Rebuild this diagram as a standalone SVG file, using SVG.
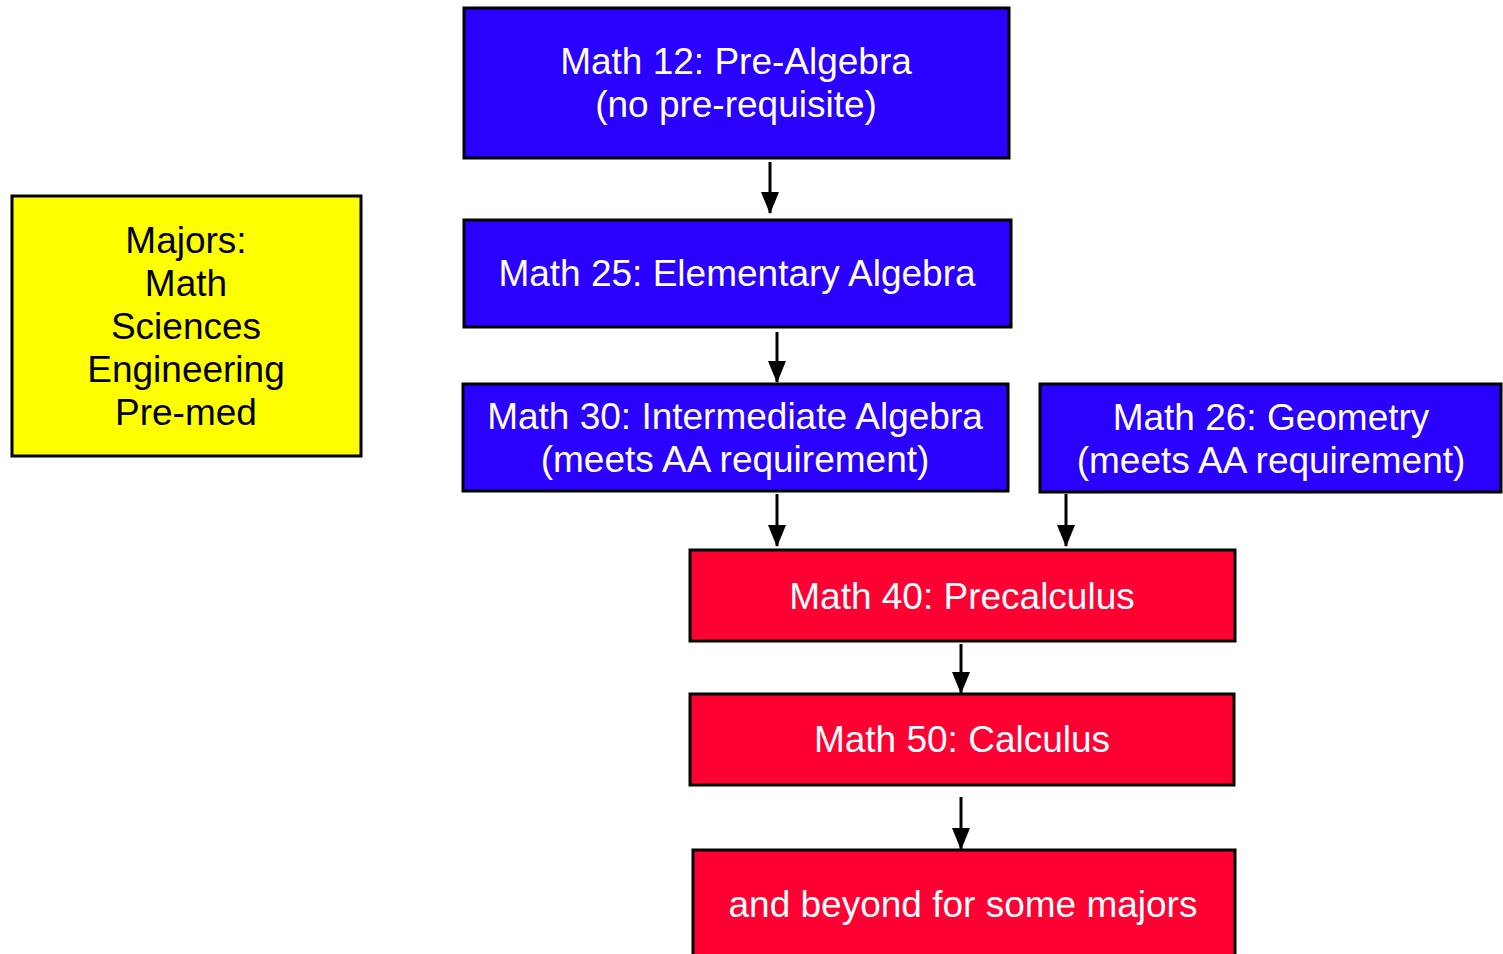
<svg xmlns="http://www.w3.org/2000/svg" width="1503" height="954" viewBox="0 0 1503 954">
<defs>
<style>
.box{stroke:#000;stroke-width:3}
.blue{fill:#2a00ff}
.red{fill:#ff0033}
.yellow{fill:#ffff00}
.t{font-family:"Liberation Sans",Arial,sans-serif;font-size:37px;text-anchor:middle}
.w{fill:#fff}
.k{fill:#000}
.conn{stroke:#000;stroke-width:3;fill:none;marker-end:url(#ah)}
</style>
<marker id="ah" viewBox="0 0 22 18" refX="21" refY="9" markerWidth="22" markerHeight="18" markerUnits="userSpaceOnUse" orient="auto">
<path d="M0,0 L22,9 L0,18 Z" fill="#000"/>
</marker>
</defs>
<rect width="1503" height="954" fill="#fff"/>
<g id="majors">
<rect class="box yellow" x="12" y="196" width="349" height="260"/>
<text class="t k" x="186" y="253">Majors:</text>
<text class="t k" x="186" y="296">Math</text>
<text class="t k" x="186" y="339">Sciences</text>
<text class="t k" x="186" y="382">Engineering</text>
<text class="t k" x="186" y="425">Pre-med</text>
</g>
<g id="math12">
<rect class="box blue" x="464" y="8" width="545" height="150"/>
<text class="t w" x="736" y="74">Math 12: Pre-Algebra</text>
<text class="t w" x="736" y="117">(no pre-requisite)</text>
</g>
<g id="math25">
<rect class="box blue" x="464" y="220" width="547" height="107"/>
<text class="t w" x="737" y="286">Math 25: Elementary Algebra</text>
</g>
<g id="math30">
<rect class="box blue" x="463" y="384" width="545" height="107"/>
<text class="t w" x="735" y="429">Math 30: Intermediate Algebra</text>
<text class="t w" x="735" y="472">(meets AA requirement)</text>
</g>
<g id="math26">
<rect class="box blue" x="1040" y="384" width="461" height="108"/>
<text class="t w" x="1271" y="430">Math 26: Geometry</text>
<text class="t w" x="1271" y="473">(meets AA requirement)</text>
</g>
<g id="math40">
<rect class="box red" x="690" y="550" width="545" height="91"/>
<text class="t w" x="962" y="609">Math 40: Precalculus</text>
</g>
<g id="math50">
<rect class="box red" x="690" y="694" width="544" height="91"/>
<text class="t w" x="962" y="752">Math 50: Calculus</text>
</g>
<g id="beyond">
<rect class="box red" x="693" y="850" width="542" height="110"/>
<text class="t w" x="963" y="917">and beyond for some majors</text>
</g>
<g id="connectors">
<line class="conn" x1="770" y1="162" x2="770" y2="213"/>
<line class="conn" x1="777" y1="332" x2="777" y2="382"/>
<line class="conn" x1="777" y1="494" x2="777" y2="546"/>
<line class="conn" x1="1066" y1="494" x2="1066" y2="546"/>
<line class="conn" x1="961" y1="644" x2="961" y2="693"/>
<line class="conn" x1="961" y1="797" x2="961" y2="849"/>
</g>
</svg>
